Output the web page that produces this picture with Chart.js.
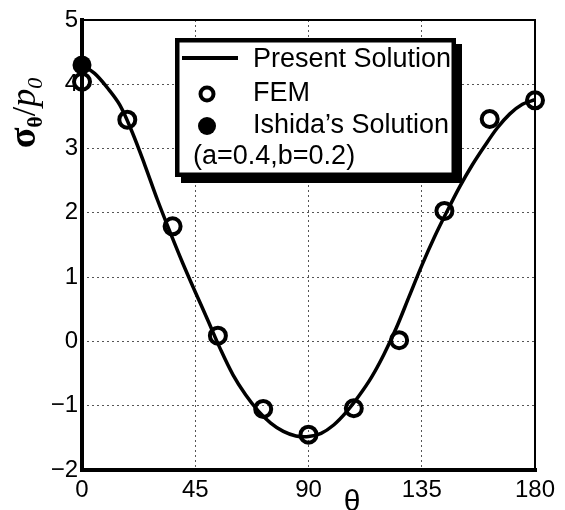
<!DOCTYPE html>
<html>
<head>
<meta charset="utf-8">
<script src="https://cdn.jsdelivr.net/npm/chart.js@4.4.1/dist/chart.umd.min.js"></script>
<style>
  html, body { margin: 0; padding: 0; background: #fff; }
  #wrap { width: 565px; height: 510px; position: relative; }
</style>
</head>
<body>
<div id="wrap"><canvas id="c" width="565" height="510"></canvas></div>
<script>
// ---- data ----
const xTicks = [0, 45, 90, 135, 180];
const yTicks = [-2, -1, 0, 1, 2, 3, 4, 5];

// Present Solution (continuous curve)
const curveTheta = [0, 5, 10, 15, 20, 25, 30, 35, 40, 45, 50, 55, 60, 65, 70, 75, 80, 85, 90,
                    95, 100, 105, 110, 115, 120, 125, 130, 135, 140, 145, 150, 155, 160, 165, 170, 175, 180];
const curveSigma = [4.30, 4.17, 3.95, 3.68, 3.25, 2.74, 2.20, 1.70, 1.22, 0.77, 0.33, -0.12, -0.52, -0.83, -1.08, -1.27, -1.40, -1.47, -1.48,
                    -1.43, -1.30, -1.10, -0.85, -0.56, -0.20, 0.22, 0.70, 1.18, 1.62, 2.02, 2.40, 2.74, 3.04, 3.32, 3.54, 3.69, 3.76];

// FEM (open circles)
const femTheta = [0, 18, 36, 54, 72, 90, 108, 126, 144, 162, 180];
const femSigma = [4.04, 3.45, 1.79, 0.09, -1.05, -1.45, -1.04, 0.02, 2.03, 3.46, 3.75];

// Ishida's Solution (filled circle)
const ishidaTheta = [0];
const ishidaSigma = [4.30];

const legendLabels = ['Present Solution', 'FEM', "Ishida\u2019s Solution"];
const noteText = '(a=0.4,b=0.2)';

// ---- helpers ----
const toXY = (xs, ys) => xs.map((x, i) => ({ x: x, y: ys[i] }));
const fmt = v => (v < 0 ? '\u2212' + Math.abs(v) : String(v));

const SANS = '"Liberation Sans", Arial, Helvetica, sans-serif';
const SERIF = '"Liberation Serif", "Times New Roman", serif';

const framePlugin = {
  id: 'frame',
  afterDatasetsDraw(chart) {
    const { ctx, chartArea: a } = chart;
    ctx.save();
    ctx.strokeStyle = '#000';
    ctx.lineCap = 'square';
    ctx.lineWidth = 2;
    ctx.beginPath(); ctx.moveTo(a.left, a.top); ctx.lineTo(a.right, a.top); ctx.stroke();
    ctx.beginPath(); ctx.moveTo(a.right, a.top); ctx.lineTo(a.right, a.bottom); ctx.stroke();
    ctx.lineWidth = 4;
    ctx.beginPath(); ctx.moveTo(a.left, a.top); ctx.lineTo(a.left, a.bottom); ctx.stroke();
    ctx.beginPath(); ctx.moveTo(a.left, a.bottom); ctx.lineTo(a.right, a.bottom); ctx.stroke();
    ctx.restore();
  }
};

const legendPlugin = {
  id: 'boxLegend',
  afterDraw(chart) {
    const ctx = chart.ctx;
    const L = 175, T = 38, R = 456, B = 177;
    ctx.save();
    // shadow
    ctx.fillStyle = '#000';
    ctx.fillRect(L + 6, T + 6, R - L, B - T);
    // box
    ctx.fillStyle = '#fff';
    ctx.fillRect(L, T, R - L, B - T);
    ctx.strokeStyle = '#000';
    ctx.lineWidth = 4.5;
    ctx.strokeRect(L + 2.25, T + 2.25, R - L - 4.5, B - T - 4.5);

    // line sample
    ctx.lineWidth = 4;
    ctx.beginPath(); ctx.moveTo(182, 58); ctx.lineTo(238, 58); ctx.stroke();
    // open circle
    ctx.lineWidth = 4;
    ctx.beginPath(); ctx.arc(207, 94, 6.5, 0, Math.PI * 2); ctx.stroke();
    // filled circle
    ctx.fillStyle = '#000';
    ctx.beginPath(); ctx.arc(207, 126, 9, 0, Math.PI * 2); ctx.fill();

    ctx.fillStyle = '#000';
    ctx.font = '27px ' + SANS;
    ctx.textBaseline = 'middle';
    ctx.textAlign = 'left';
    ctx.fillText(legendLabels[0], 253, 60);
    ctx.fillText(legendLabels[1], 253, 94);
    ctx.fillText(legendLabels[2], 253, 126);
    ctx.fillText(noteText, 193, 157);
    ctx.restore();
  }
};

const titlesPlugin = {
  id: 'titles',
  afterDraw(chart) {
    const ctx = chart.ctx;
    ctx.save();
    ctx.fillStyle = '#000';
    // x title
    ctx.font = '30px ' + SANS;
    ctx.textAlign = 'center';
    ctx.textBaseline = 'middle';
    ctx.fillText('\u03b8', 352, 503);

    // y title: sigma_theta / p_0, rotated
    const parts = [
      { t: '\u03c3', f: 'bold 38px ' + SERIF, dy: 0 },
      { t: '\u03b8', f: 'bold 22px ' + SERIF, dy: 7 },
      { t: '/', f: '34px ' + SERIF, dy: 0 },
      { t: 'p', f: 'italic 36px ' + SERIF, dy: 0 },
      { t: '0', f: 'italic 22px ' + SERIF, dy: 7 }
    ];
    let total = 0;
    parts.forEach(p => { ctx.font = p.f; p.w = ctx.measureText(p.t).width; total += p.w; });
    ctx.translate(35, 113);
    ctx.rotate(-Math.PI / 2);
    ctx.textAlign = 'left';
    ctx.textBaseline = 'alphabetic';
    let x = -total / 2;
    parts.forEach(p => { ctx.font = p.f; ctx.fillText(p.t, x, p.dy); x += p.w; });
    ctx.restore();
  }
};

new Chart(document.getElementById('c'), {
  type: 'scatter',
  data: {
    datasets: [
      {
        label: legendLabels[0],
        data: toXY(curveTheta, curveSigma),
        showLine: true,
        borderColor: '#000',
        borderWidth: 3.5,
        pointRadius: 0,
        tension: 0.35,
        fill: false,
        clip: false,
        order: 3
      },
      {
        label: legendLabels[1],
        data: toXY(femTheta, femSigma),
        showLine: false,
        pointStyle: 'circle',
        pointRadius: 8,
        pointBorderWidth: 4,
        pointBorderColor: '#000',
        pointBackgroundColor: 'rgba(0,0,0,0)',
        clip: false,
        order: 2
      },
      {
        label: legendLabels[2],
        data: toXY(ishidaTheta, ishidaSigma),
        showLine: false,
        pointStyle: 'circle',
        pointRadius: 9.5,
        pointBorderWidth: 0,
        pointBackgroundColor: '#000',
        pointBorderColor: '#000',
        clip: false,
        order: 1
      }
    ]
  },
  options: {
    responsive: false,
    animation: false,
    devicePixelRatio: 1,
    layout: { padding: { left: 0, top: 20, right: 30, bottom: 0 } },
    plugins: {
      legend: { display: false },
      tooltip: { enabled: false },
      title: { display: false }
    },
    scales: {
      x: {
        type: 'linear',
        min: 0, max: 180,
        afterBuildTicks: s => { s.ticks = xTicks.map(v => ({ value: v })); },
        afterFit: s => { s.height = 40; },
        border: { display: false, dash: [2, 3] },
        grid: { color: '#555', lineWidth: 1, drawTicks: false },
        ticks: {
          color: '#000', padding: 6, maxRotation: 0, autoSkip: false,
          font: { family: SANS, size: 24 },
          callback: v => fmt(v)
        }
      },
      y: {
        type: 'linear',
        min: -2, max: 5,
        afterBuildTicks: s => { s.ticks = yTicks.map(v => ({ value: v })); },
        afterFit: s => { s.width = 82; },
        border: { display: false, dash: [2, 3] },
        grid: { color: '#555', lineWidth: 1, drawTicks: false },
        ticks: {
          color: '#000', padding: 4, autoSkip: false,
          font: { family: SANS, size: 24 },
          callback: v => fmt(v)
        }
      }
    }
  },
  plugins: [framePlugin, legendPlugin, titlesPlugin]
});
</script>
</body>
</html>
